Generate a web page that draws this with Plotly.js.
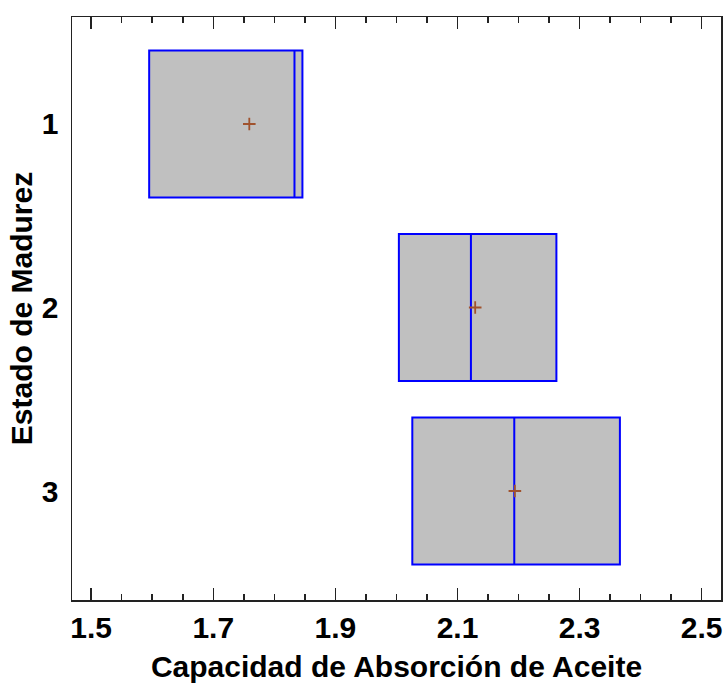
<!DOCTYPE html>
<html>
<head>
<meta charset="utf-8">
<script src="https://cdn.plot.ly/plotly-3.0.1.min.js"></script>
<style>
  html, body { margin: 0; padding: 0; background: #ffffff; }
  #chart { width: 724px; height: 684px; }
</style>
</head>
<body>
<div id="chart"></div>
<script>
// Ripeness stages (Estado de Madurez)
const stages = [1, 2, 3];
const stageLabels = ['1', '2', '3'];

// Oil absorption capacity box statistics per stage
const q1Values = [1.595, 2.004, 2.026];
const medianValues = [1.833, 2.122, 2.193];
const q3Values = [1.846, 2.262, 2.366];
const lowerValues = [1.595, 2.004, 2.026];
const upperValues = [1.846, 2.262, 2.366];
const meanValues = [1.759, 2.129, 2.194];

// Axis ticks
const xTickValues = [1.5, 1.7, 1.9, 2.1, 2.3, 2.5];
const xTickLabels = ['1.5', '1.7', '1.9', '2.1', '2.3', '2.5'];

const xRange = [1.4686, 2.5316];
const fontFamily = 'Liberation Sans, Arial, sans-serif';

const boxTrace = {
  type: 'box',
  orientation: 'h',
  y: stages,
  q1: q1Values,
  median: medianValues,
  q3: q3Values,
  lowerfence: lowerValues,
  upperfence: upperValues,
  width: 0.8,
  whiskerwidth: 0,
  fillcolor: '#c0c0c0',
  line: { color: '#0000ff', width: 2 },
  boxpoints: false,
  hoverinfo: 'skip',
  showlegend: false
};

// Means drawn as small crosses; plotted against the top axis, which shares the same range
const meanTrace = {
  type: 'scatter',
  mode: 'markers',
  x: meanValues,
  y: stages,
  xaxis: 'x2',
  yaxis: 'y',
  marker: {
    symbol: 'cross-thin',
    size: 9,
    line: { color: '#a0522d', width: 1.8 }
  },
  hoverinfo: 'skip',
  showlegend: false
};

const tickStyle = {
  ticks: 'inside',
  ticklen: 12,
  tickwidth: 1.5,
  tickcolor: '#222222',
  minor: { dtick: 0.05, tick0: 1.5, ticks: 'inside', ticklen: 6, tickwidth: 1.5, tickcolor: '#222222', showgrid: false }
};

const layout = {
  width: 724,
  height: 684,
  margin: { l: 72, r: 3, t: 17, b: 84 },
  paper_bgcolor: '#ffffff',
  plot_bgcolor: '#ffffff',
  font: { family: fontFamily, color: '#000000' },
  xaxis: Object.assign({
    range: xRange,
    tickvals: xTickValues,
    ticktext: xTickLabels,
    showgrid: false,
    zeroline: false,
    showline: true,
    linecolor: '#222222',
    linewidth: 1.5,
    tickfont: { family: fontFamily, size: 30, color: '#000000', weight: 'bold' },
    ticklabelstandoff: 0,
    title: {
      text: '<b>Capacidad de Absorción de Aceite</b>',
      font: { family: fontFamily, size: 30, color: '#000000' },
      standoff: 13
    }
  }, tickStyle),
  xaxis2: Object.assign({
    range: xRange,
    overlaying: 'x',
    side: 'top',
    anchor: 'y',
    tickvals: xTickValues,
    showticklabels: false,
    showgrid: false,
    zeroline: false,
    showline: true,
    linecolor: '#222222',
    linewidth: 1.5
  }, tickStyle),
  yaxis: {
    range: [3.594, 0.417],
    tickvals: stages,
    ticktext: stageLabels,
    ticks: '',
    showgrid: false,
    zeroline: false,
    showline: true,
    linecolor: '#222222',
    linewidth: 1.5,
    mirror: true,
    tickfont: { family: fontFamily, size: 30, color: '#000000', weight: 'bold' },
    ticklabelstandoff: 6,
    title: {
      text: '<b>Estado de Madurez</b>',
      font: { family: fontFamily, size: 30, color: '#000000' },
      standoff: 0
    }
  }
};

Plotly.newPlot('chart', [boxTrace, meanTrace], layout, { displayModeBar: false, staticPlot: true });
</script>
</body>
</html>
